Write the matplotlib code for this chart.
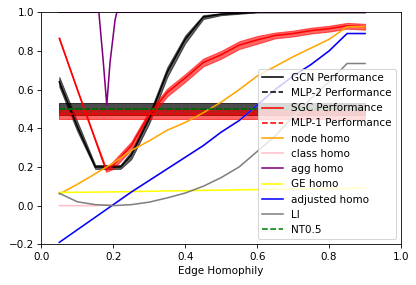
import numpy as np
import matplotlib
matplotlib.use("Agg")
import matplotlib.pyplot as plt

# common grid of edge homophily values
x = [0.05, 0.1, 0.15, 0.2, 0.25, 0.3, 0.35, 0.4, 0.45, 0.5, 0.55, 0.6, 0.65, 0.7, 0.75, 0.8, 0.85, 0.9]

# GCN performance
x_gcn = [0.05, 0.1, 0.15, 0.2, 0.22, 0.25, 0.3, 0.35, 0.4, 0.45, 0.5, 0.55, 0.6, 0.65, 0.7, 0.75, 0.8, 0.85, 0.9]
gcn_mean = [0.64, 0.41, 0.20, 0.20, 0.20, 0.26, 0.45, 0.69, 0.86, 0.975, 0.99, 0.995, 1.0, 1.0, 1.0, 1.0, 1.0, 1.0, 1.0]
gcn_std = [0.025, 0.025, 0.01, 0.01, 0.01, 0.02, 0.025, 0.025, 0.02, 0.01, 0.005, 0.003, 0.0, 0.0, 0.0, 0.0, 0.0, 0.0, 0.0]

# SGC performance
x_sgc = [0.05, 0.1, 0.15, 0.18, 0.2, 0.22, 0.25, 0.3, 0.35, 0.4, 0.45, 0.5, 0.55, 0.6, 0.65, 0.7, 0.75, 0.8, 0.85, 0.9]
sgc_mean = [0.865, 0.60, 0.34, 0.185, 0.21, 0.25, 0.31, 0.47, 0.585, 0.66, 0.74, 0.78, 0.83, 0.857, 0.88, 0.89, 0.905, 0.915, 0.93, 0.925]
sgc_std = [0.003, 0.003, 0.005, 0.01, 0.02, 0.02, 0.02, 0.02, 0.02, 0.02, 0.02, 0.02, 0.02, 0.02, 0.015, 0.015, 0.015, 0.015, 0.015, 0.015]

# MLP baselines (constant)
mlp2_mean = 0.50
mlp2_std = 0.03
mlp1_mean = 0.472
mlp1_std = 0.023

# homophily metrics
node_homo = [0.06, 0.11, 0.165, 0.22, 0.285, 0.335, 0.39, 0.43, 0.48, 0.535, 0.60, 0.67, 0.72, 0.77, 0.815, 0.86, 0.925, 0.925]
adjusted_homo = [-0.19, -0.125, -0.06, 0.005, 0.07, 0.13, 0.19, 0.25, 0.31, 0.38, 0.44, 0.52, 0.60, 0.67, 0.73, 0.80, 0.89, 0.89]
class_homo = [0.0, 0.0, 0.0, 0.005, 0.07, 0.13, 0.19, 0.25, 0.31, 0.38, 0.44, 0.52, 0.60, 0.67, 0.73, 0.80, 0.89, 0.89]
ge_homo = [0.068, 0.069, 0.07, 0.071, 0.073, 0.074, 0.076, 0.077, 0.079, 0.08, 0.082, 0.083, 0.085, 0.086, 0.087, 0.088, 0.089, 0.09]
li = [0.064, 0.02, 0.005, 0.0, 0.005, 0.018, 0.04, 0.065, 0.10, 0.145, 0.20, 0.28, 0.36, 0.46, 0.555, 0.64, 0.735, 0.735]

x_agg = [0.05, 0.1, 0.15, 0.16, 0.172, 0.182, 0.191, 0.205, 0.21, 0.25, 0.3, 0.4, 0.5, 0.6, 0.7, 0.8, 0.9]
agg_homo = [1.0, 1.0, 1.0, 1.0, 0.75, 0.52, 0.74, 0.96, 1.0, 1.0, 1.0, 1.0, 1.0, 1.0, 1.0, 1.0, 1.0]

nt_level = 0.5

DPI = 75
fig = plt.figure(figsize=(416 / DPI, 285 / DPI), dpi=DPI)
ax = fig.add_axes([0.0993, 0.1428, 0.8647, 0.8142])

xa = np.array(x)
xg = np.array(x_gcn)
gm, gs = np.array(gcn_mean), np.array(gcn_std)
xs = np.array(x_sgc)
sm, ss = np.array(sgc_mean), np.array(sgc_std)

ax.plot(xg, gm, color="black", label="GCN Performance")
ax.fill_between(xg, gm - gs, gm + gs, color="black", alpha=0.6)
ax.plot(xa, np.full_like(xa, mlp2_mean), color="black", linestyle="--", label="MLP-2 Performance")
ax.fill_between(xa, mlp2_mean - mlp2_std, mlp2_mean + mlp2_std, color="black", alpha=0.7)
ax.plot(xs, sm, color="red", label="SGC Performance")
ax.fill_between(xs, sm - ss, sm + ss, color="red", alpha=0.6)
ax.plot(xa, np.full_like(xa, mlp1_mean), color="red", linestyle="--", label="MLP-1 Performance")
ax.fill_between(xa, mlp1_mean - mlp1_std, mlp1_mean + mlp1_std, color="red", alpha=0.6)
ax.plot(xa, node_homo, color="orange", label="node homo")
ax.plot(xa, class_homo, color="pink", label="class homo")
ax.plot(x_agg, agg_homo, color="purple", label="agg homo")
ax.plot(xa, ge_homo, color="yellow", label="GE homo")
ax.plot(xa, adjusted_homo, color="blue", label="adjusted homo")
ax.plot(xa, li, color="gray", label="LI")
ax.plot(xa, np.full_like(xa, nt_level), color="green", linestyle="--", label="NT0.5")

ax.set_xlim(0, 1)
ax.set_ylim(-0.2, 1.0)
ax.set_xlabel("Edge Homophily")
ax.legend(loc="lower right")

fig.savefig("out.png", dpi=DPI)
